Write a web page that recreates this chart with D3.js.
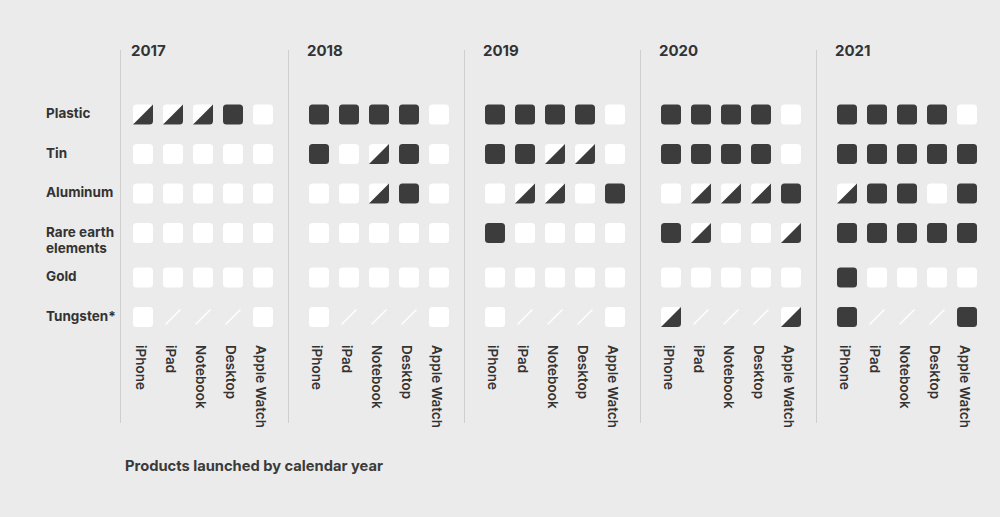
<!DOCTYPE html>
<html>
<head>
<meta charset="utf-8">
<script src="https://cdn.jsdelivr.net/npm/d3@7"></script>
<style>
  html, body { margin: 0; padding: 0; background: #ebebeb; }
  svg { display: block; font-family: Inter, "Helvetica Neue", Arial, sans-serif; }
</style>
</head>
<body>
<svg id="chart" width="1000" height="517"></svg>
<script>
// ---- Data ----
const years = ["2017", "2018", "2019", "2020", "2021"];
const products = ["iPhone", "iPad", "Notebook", "Desktop", "Apple Watch"];
const materials = ["Plastic", "Tin", "Aluminum", "Rare earth elements", "Gold", "Tungsten*"];
const materialLabelLines = [["Plastic"], ["Tin"], ["Aluminum"], ["Rare earth", "elements"], ["Gold"], ["Tungsten*"]];
const xAxisTitle = "Products launched by calendar year";
// status codes: 2 = full, 1 = partial (half), 0 = none, -1 = not applicable
// each row = material, each column = product
const status2017 = [
  [1, 1, 1, 2, 0],
  [0, 0, 0, 0, 0],
  [0, 0, 0, 0, 0],
  [0, 0, 0, 0, 0],
  [0, 0, 0, 0, 0],
  [0, -1, -1, -1, 0]
];
const status2018 = [
  [2, 2, 2, 2, 0],
  [2, 0, 1, 2, 0],
  [0, 0, 1, 2, 0],
  [0, 0, 0, 0, 0],
  [0, 0, 0, 0, 0],
  [0, -1, -1, -1, 0]
];
const status2019 = [
  [2, 2, 2, 2, 0],
  [2, 2, 1, 1, 0],
  [0, 1, 1, 0, 2],
  [2, 0, 0, 0, 0],
  [0, 0, 0, 0, 0],
  [0, -1, -1, -1, 0]
];
const status2020 = [
  [2, 2, 2, 2, 0],
  [2, 2, 2, 2, 0],
  [0, 1, 1, 1, 2],
  [2, 1, 0, 0, 1],
  [0, 0, 0, 0, 0],
  [1, -1, -1, -1, 1]
];
const status2021 = [
  [2, 2, 2, 2, 0],
  [2, 2, 2, 2, 2],
  [1, 2, 2, 0, 2],
  [2, 2, 2, 2, 2],
  [2, 0, 0, 0, 0],
  [2, -1, -1, -1, 2]
];
const statusByYear = [status2017, status2018, status2019, status2020, status2021];

// ---- Styles ----
const BG = "#ebebeb", DARK = "#3c3c3c", WHITE = "#ffffff", TEXT = "#333333", RULE = "#cfcfcf";
const R = 3.5;

const svg = d3.select("#chart");
svg.append("rect").attr("width", 1000).attr("height", 517).attr("fill", BG);

// ---- Scales ----
const xYear = d3.scaleBand().domain(years).range([133, 133 + 176 * years.length]).paddingInner(0).paddingOuter(0);
const xProd = d3.scaleBand().domain(products).range([0, 140]).paddingInner(1 / 3).paddingOuter(0);

// rows: cumulative offset, rows with two-line labels take extra room
const rowOffsets = [];
{
  let acc = 0;
  materials.forEach((m, i) => {
    rowOffsets.push(acc);
    acc += 39.5 + (materialLabelLines[i].length - 1) * 5;
  });
}
const yRowLin = d3.scaleLinear().domain([0, 1]).range([104.5, 105.5]);
const yRow = m => yRowLin(rowOffsets[materials.indexOf(m)]);

// ---- Divider rules ----
years.forEach((yr, i) => {
  const x = i === 0 ? xYear(yr) - 13 : xYear(yr) - 21;
  svg.append("line")
    .attr("x1", x + 0.5).attr("x2", x + 0.5)
    .attr("y1", 50).attr("y2", 423)
    .attr("stroke", RULE).attr("stroke-width", 1);
});

// ---- Year labels ----
svg.selectAll("text.year").data(years).join("text")
  .attr("class", "year")
  .attr("x", d => xYear(d) - 2)
  .attr("y", 56)
  .attr("fill", TEXT)
  .attr("font-size", 15)
  .attr("font-weight", 700)
  .text(d => d);

// ---- Row labels ----
materials.forEach((m, i) => {
  const t = svg.append("text")
    .attr("x", 46)
    .attr("y", yRow(m) + 13.5)
    .attr("fill", TEXT)
    .attr("font-size", 13.5)
    .attr("font-weight", 700);
  materialLabelLines[i].forEach((ln, j) => {
    t.append("tspan").attr("x", 46).attr("dy", j === 0 ? 0 : 16).text(ln);
  });
});

// ---- Cells ----
const cells = [];
years.forEach((yr, yi) => {
  materials.forEach((m, mi) => {
    products.forEach((p, pi) => {
      cells.push({ year: yr, material: m, product: p, v: statusByYear[yi][mi][pi] });
    });
  });
});

const g = svg.append("g");
cells.forEach(c => {
  const x = xYear(c.year) + xProd(c.product);
  const y = yRow(c.material);
  const w = xProd.bandwidth();
  if (c.v === -1) {
    g.append("line")
      .attr("x1", x + 3).attr("y1", y + w - 3)
      .attr("x2", x + w - 3).attr("y2", y + 3)
      .attr("stroke", WHITE).attr("stroke-width", 1.5).attr("stroke-linecap", "round");
    return;
  }
  g.append("rect")
    .attr("x", x).attr("y", y).attr("width", w).attr("height", w)
    .attr("rx", R).attr("ry", R)
    .attr("fill", c.v === 2 ? DARK : WHITE);
  if (c.v === 1) {
    const p = d3.path();
    p.moveTo(x, y + w);
    p.lineTo(x + w, y);
    p.lineTo(x + w, y + w - R);
    p.quadraticCurveTo(x + w, y + w, x + w - R, y + w);
    p.closePath();
    g.append("path").attr("d", p.toString()).attr("fill", DARK);
  }
});

// ---- Product labels (rotated) ----
years.forEach(yr => {
  products.forEach(p => {
    const cx = xYear(yr) + xProd(p) + xProd.bandwidth() / 2;
    svg.append("text")
      .attr("transform", `translate(${cx - 7},345) rotate(90)`)
      .attr("fill", TEXT)
      .attr("font-size", 13.5)
      .attr("font-weight", 600)
      .attr("text-anchor", "start")
      .text(p);
  });
});

// ---- Axis title ----
svg.append("text")
  .attr("x", 125).attr("y", 471)
  .attr("fill", "#3a3a3a")
  .attr("font-size", 14.7)
  .attr("font-weight", 700)
  .text(xAxisTitle);
</script>
</body>
</html>
